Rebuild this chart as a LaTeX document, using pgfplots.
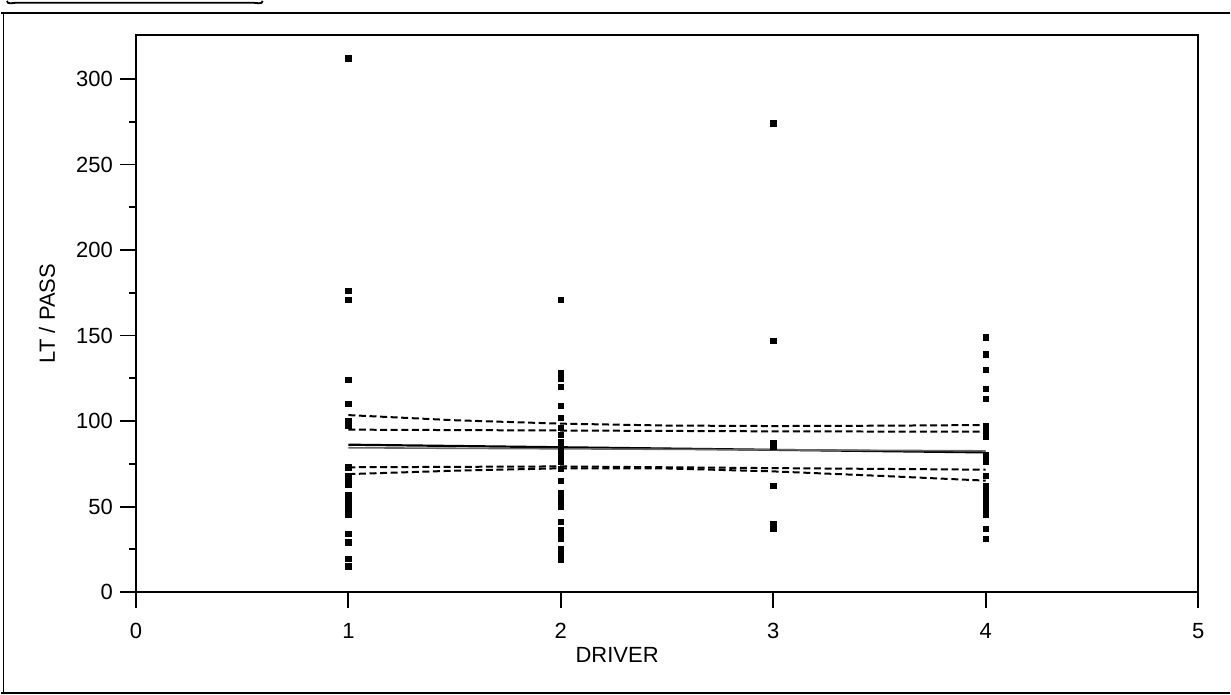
\documentclass[border=0pt]{standalone}
\usepackage{fontspec}
\setmainfont{Liberation Sans}
\usepackage{pgfplots}
\pgfplotsset{compat=1.18}
\begin{document}
\begin{tikzpicture}[x=1pt,y=1pt]
\path (0,0) rectangle (615.5,347.5);
% scan frame
\draw[line width=1pt] (0,341.5) -- (615.5,341.5);
\draw[line width=0.8pt] (1.2,1) -- (1.2,341.5);
\draw[line width=1pt] (0,1) -- (615.5,1);
\draw[line width=0.9pt] (3,347.5) to[out=-90,in=180] (8,346.6) -- (126,346.6) to[out=0,in=-90] (131,347.5);
\begin{axis}[
  at={(63.5,60)}, anchor=south west, scale only axis,
  width=532pt, height=279pt,
  xmin=0, xmax=5, ymin=0, ymax=325.7,
  xtick={0,1,2,3,4,5}, ytick={0,50,100,150,200,250,300},
  minor ytick={25,75,125,175,225,275},
  tick align=outside, tick pos=left,
  major tick length=8pt, minor tick length=3.5pt,
  axis line style={line width=0.9pt},
  every tick/.style={black, line width=0.9pt},
  /pgf/number format/assume math mode=true,
  ticklabel style={font=\fontsize{11}{13}\selectfont},
  xticklabel style={yshift=-4pt},
  xlabel={DRIVER}, ylabel={LT / PASS},
  xlabel style={at={(axis description cs:0.453,-0.113)}, anchor=center, font=\fontsize{11}{13}\selectfont},
  ylabel style={at={(axis description cs:-0.0836,0.5)}, anchor=center, font=\fontsize{11}{13}\selectfont},
]
\addplot[only marks, mark=square*, mark size=1.35pt, black] coordinates {
(1,312) (1,176) (1,171) (1,124) (1,110) (1,100) (1,97.5) (1,73) (1,68) (1,66) (1,63) (1,57)
(1,54) (1,52) (1,50) (1,48) (1,46) (1,45) (1,34) (1,29) (1,19.5) (1,15)
(2,171) (2,128) (2,125) (2,120) (2,109) (2,102) (2,96) (2,92) (2,88) (2,85) (2,83) (2,80)
(2,78) (2,76) (2,72) (2,65) (2,58) (2,55) (2,52) (2,50) (2,41) (2,36) (2,33) (2,31)
(2,25) (2,22) (2,19)
(3,274) (3,147) (3,87) (3,85) (3,62) (3,40) (3,37)
(4,149) (4,139) (4,130) (4,119) (4,113) (4,97) (4,94) (4,91) (4,80) (4,78) (4,76) (4,68)
(4,62) (4,59) (4,56) (4,53) (4,50) (4,47) (4,45) (4,37) (4,31)
};
\addplot[black, line width=1.1pt, no markers] coordinates {(1,86.2) (4,81.7)};
\addplot[black!60, line width=0.8pt, no markers] coordinates {(1,84.4) (4,82.6)};
\addplot[black, line width=1pt, no markers, dash pattern=on 3.5pt off 1.8pt] coordinates {
(1,103.5) (1.5,100.5) (2,98.5) (2.5,97.4) (3,97.1) (3.5,97.3) (4,97.7)};
\addplot[black, line width=1pt, no markers, dash pattern=on 3.5pt off 1.8pt] coordinates {
(1,95) (2,94.5) (3,94) (4,93.8)};
\addplot[black, line width=1pt, no markers, dash pattern=on 3.5pt off 1.8pt] coordinates {
(1,73) (2,73.5) (3,72.5) (4,71.6)};
\addplot[black, line width=1pt, no markers, dash pattern=on 3.5pt off 1.8pt] coordinates {
(1,69) (1.5,71) (2,72.4) (2.5,72.3) (3,70.6) (3.5,68) (4,65.2)};
\end{axis}
\end{tikzpicture}
\end{document}
